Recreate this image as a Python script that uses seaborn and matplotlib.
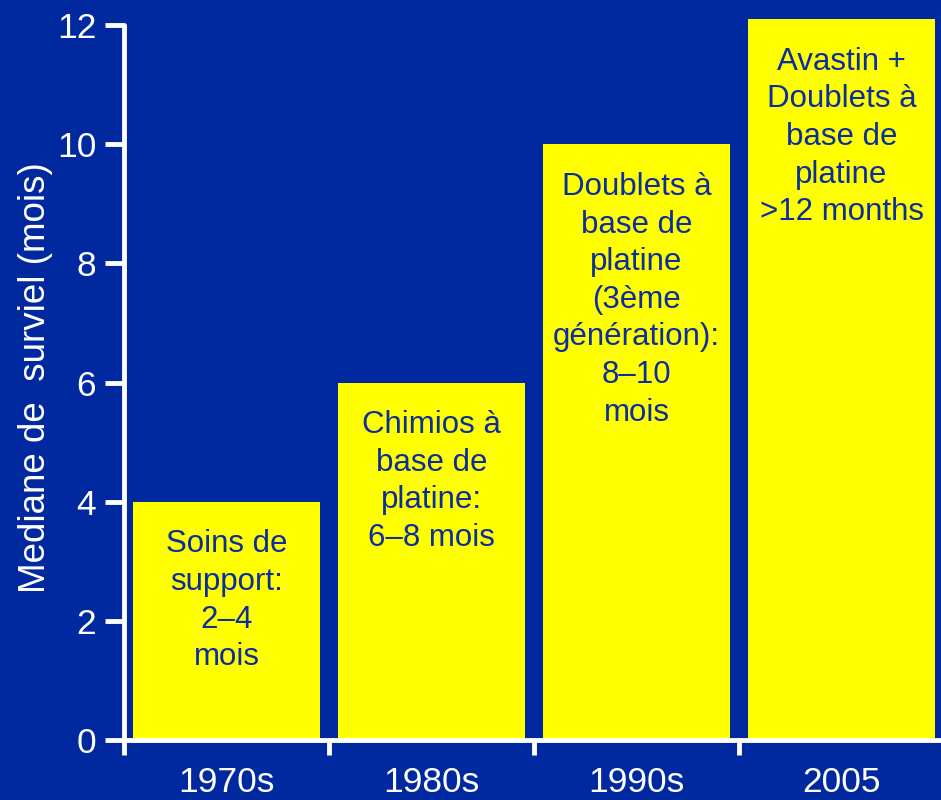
import matplotlib
matplotlib.use("Agg")
import matplotlib.pyplot as plt
import seaborn as sns
import pandas as pd

# Median survival by era
periods = ["1970s", "1980s", "1990s", "2005"]
survie = [4, 6, 10, 12.1]
descriptions = [
    "Soins de\nsupport:\n2–4\nmois",
    "Chimios à\nbase de\nplatine:\n6–8 mois",
    "Doublets à\nbase de\nplatine\n(3ème\ngénération):\n8–10\nmois",
    "Avastin +\nDoublets à\nbase de\nplatine\n>12 months",
]
y_ticks = [0, 2, 4, 6, 8, 10, 12]

BG = "#0029A0"
BAR = "#FFFF00"
INK = "#0A2E9E"

sns.set_theme(style="white")
plt.rcParams["font.family"] = ["Liberation Sans", "DejaVu Sans"]

df = pd.DataFrame({"periode": periods, "survie": survie})

fig = plt.figure(figsize=(9.41, 8.0), dpi=100, facecolor=BG)
ax = fig.add_axes([124 / 941, 60 / 800, 820 / 941, 740 / 800])
ax.set_facecolor(BG)

sns.barplot(data=df, x="periode", y="survie", color=BAR, width=0.917,
            saturation=1, edgecolor="none", ax=ax)

for i, (v, txt) in enumerate(zip(survie, descriptions)):
    ax.annotate(txt, xy=(i, v), xytext=(0, -20), textcoords="offset points",
                ha="center", va="top", fontsize=22.5, color=INK,
                linespacing=1.33)

ax.set_xlim(-0.5, 3.5)
ax.set_ylim(0, 12.42)
ax.set_yticks(y_ticks)
ax.set_yticklabels([str(t) for t in y_ticks])
ax.set_xticks([-0.5, 0.5, 1.5, 2.5], labels=[""] * 4)
ax.set_xticks([0, 1, 2, 3], labels=periods, minor=True)

for side in ("top", "right"):
    ax.spines[side].set_visible(False)
for side in ("left", "bottom"):
    ax.spines[side].set_color("white")
    ax.spines[side].set_linewidth(3.5)
    ax.spines[side].set_capstyle("round")
ax.spines["left"].set_bounds(0, 12)

ax.tick_params(axis="y", which="major", direction="out", length=14, width=3.5,
               color="white", labelcolor="white", labelsize=25.5, pad=6, left=True)
ax.tick_params(axis="x", which="major", direction="out", length=11, width=3.5,
               color="white", bottom=True)
ax.tick_params(axis="x", which="minor", length=0, labelcolor="white",
               labelsize=25.5, pad=19)

ax.set_xlabel("")
ax.set_ylabel("Mediane de  surviel (mois)", color="white", fontsize=26.5)
ax.yaxis.set_label_coords(-0.086, 0.49)

fig.savefig("out.png", dpi=100, facecolor=BG)
